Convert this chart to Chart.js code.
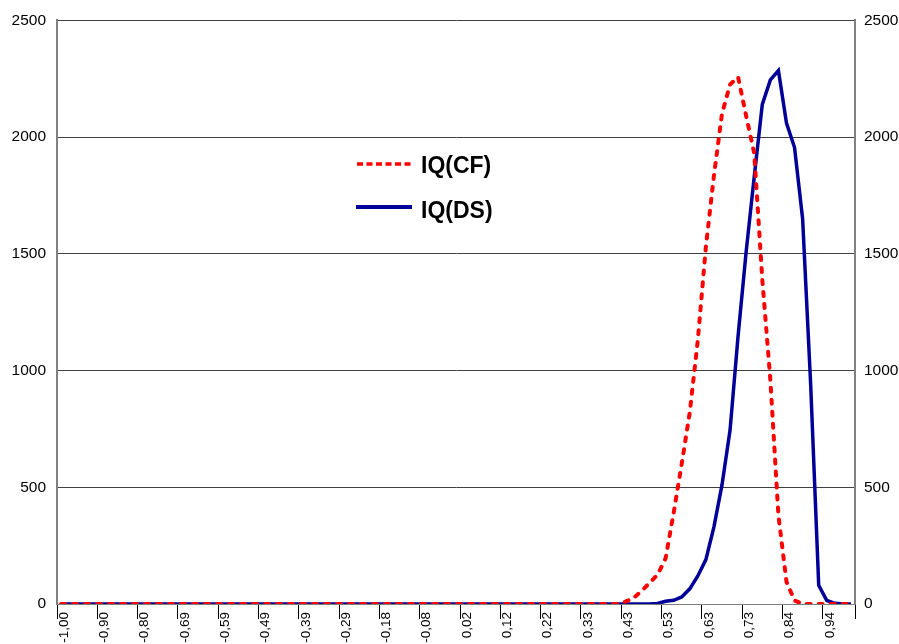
<!DOCTYPE html>
<html>
<head>
<meta charset="utf-8">
<script src="https://cdn.jsdelivr.net/npm/chart.js@4.4.1/dist/chart.umd.min.js"></script>
<style>
  body { margin: 0; background: #fff; }
  #wrap { position: relative; width: 899px; height: 644px; overflow: hidden; }
  .lg-text { position: absolute; font-family: "Liberation Sans", Arial, sans-serif; font-weight: bold; font-size: 23px; line-height: 26px; color: #000; white-space: nowrap; }
  svg.lg { position: absolute; left: 0; top: 0; }
</style>
</head>
<body>
<div id="wrap">
  <canvas id="lineChart" width="899" height="644"></canvas>
  <svg class="lg" width="899" height="644">
    <line x1="357" y1="164" x2="411" y2="164" stroke="#ff0000" stroke-width="3.5" stroke-dasharray="6 3.5"></line>
    <line x1="356" y1="207" x2="412" y2="207" stroke="#000099" stroke-width="4"></line>
  </svg>
  <div class="lg-text" style="left:421px; top:152px;">IQ(CF)</div>
  <div class="lg-text" style="left:421px; top:197px;">IQ(DS)</div>
</div>
<script>
// Dados

const categorias = [
  '-1,00', '-0,98', '-0,96', '-0,94', '-0,92', '-0,90', '-0,88', '-0,86', '-0,84', '-0,82',
  '-0,80', '-0,78', '-0,76', '-0,73', '-0,71', '-0,69', '-0,67', '-0,65', '-0,63', '-0,61',
  '-0,59', '-0,57', '-0,55', '-0,53', '-0,51', '-0,49', '-0,47', '-0,45', '-0,43', '-0,41',
  '-0,39', '-0,37', '-0,35', '-0,33', '-0,31', '-0,29', '-0,27', '-0,24', '-0,22', '-0,20',
  '-0,18', '-0,16', '-0,14', '-0,12', '-0,10', '-0,08', '-0,06', '-0,04', '-0,02', '0,00',
  '0,02', '0,04', '0,06', '0,08', '0,10', '0,12', '0,14', '0,16', '0,18', '0,20',
  '0,22', '0,24', '0,27', '0,29', '0,31', '0,33', '0,35', '0,37', '0,39', '0,41',
  '0,43', '0,45', '0,47', '0,49', '0,51', '0,53', '0,55', '0,57', '0,59', '0,61',
  '0,63', '0,65', '0,67', '0,69', '0,71', '0,73', '0,76', '0,78', '0,80', '0,82',
  '0,84', '0,86', '0,88', '0,90', '0,92', '0,94', '0,96', '0,98', '1,00'
];

const iqCF = [
  0, 0, 0, 0, 0, 0, 0, 0, 0, 0,
  0, 0, 0, 0, 0, 0, 0, 0, 0, 0,
  0, 0, 0, 0, 0, 0, 0, 0, 0, 0,
  0, 0, 0, 0, 0, 0, 0, 0, 0, 0,
  0, 0, 0, 0, 0, 0, 0, 0, 0, 0,
  0, 0, 0, 0, 0, 0, 0, 0, 0, 0,
  0, 0, 0, 0, 0, 0, 0, 0, 0, 0,
  10, 25, 55, 90, 125, 195, 390, 600, 820, 1130,
  1530, 1835, 2100, 2225, 2257, 2090, 1930, 1390, 960, 380,
  95, 15, 0, 0, 0, 0, 0, 0, 0
];

const iqDS = [
  0, 0, 0, 0, 0, 0, 0, 0, 0, 0,
  0, 0, 0, 0, 0, 0, 0, 0, 0, 0,
  0, 0, 0, 0, 0, 0, 0, 0, 0, 0,
  0, 0, 0, 0, 0, 0, 0, 0, 0, 0,
  0, 0, 0, 0, 0, 0, 0, 0, 0, 0,
  0, 0, 0, 0, 0, 0, 0, 0, 0, 0,
  0, 0, 0, 0, 0, 0, 0, 0, 0, 0,
  0, 0, 0, 0, 2, 12, 16, 30, 65, 120,
  190, 330, 510, 745, 1150, 1510, 1830, 2140, 2245, 2285,
  2060, 1955, 1650, 940, 80, 15, 3, 0, 0
];

const ticksY = [0, 500, 1000, 1500, 2000, 2500];

// Configurações

const fonte = "'Liberation Sans', Arial, sans-serif";

const config = {
  type: 'line',
  data: {
    labels: categorias,
    datasets: [
      {
        label: 'IQ(CF)',
        data: iqCF,
        borderColor: '#ff0000',
        borderWidth: 4,
        borderDash: [4, 8],
        borderCapStyle: 'round',
        pointRadius: 0,
        tension: 0,
        yAxisID: 'y'
      },
      {
        label: 'IQ(DS)',
        data: iqDS,
        borderColor: '#000099',
        borderWidth: 3.5,
        pointRadius: 0,
        tension: 0,
        yAxisID: 'y'
      }
    ]
  },
  options: {
    responsive: false,
    animation: false,
    layout: { padding: { top: 20, left: 0, right: 0, bottom: 0 } },
    plugins: {
      legend: { display: false },
      tooltip: { enabled: false }
    },
    scales: {
      x: {
        offset: true,
        grid: {
          offset: true,
          drawOnChartArea: false,
          tickLength: 15,
          lineWidth: 1,
          color: (c) => (c.index === undefined || c.index % 5 === 0) ? '#000' : 'rgba(0,0,0,0)'
        },
        border: { color: '#808080', width: 1 },
        ticks: {
          autoSkip: false,
          minRotation: 90,
          maxRotation: 90,
          padding: -7,
          labelOffset: 3,
          color: '#000',
          font: { family: fonte, size: 13.5 },
          callback: function (v, i) { return i % 5 === 0 ? this.getLabelForValue(v) : ''; }
        },
        afterFit: (s) => { s.height = 40; }
      },
      y: {
        position: 'left',
        min: 0,
        max: 2500,
        afterBuildTicks: (s) => { s.ticks = ticksY.map(v => ({ value: v })); },
        grid: { color: '#404040', lineWidth: 1, drawTicks: false },
        border: { color: '#808080', width: 2 },
        ticks: { padding: 11, color: '#000', font: { family: fonte, size: 15.5 }, callback: (v) => String(v) },
        afterFit: (s) => { s.width = 57; }
      },
      y2: {
        position: 'right',
        min: 0,
        max: 2500,
        afterBuildTicks: (s) => { s.ticks = ticksY.map(v => ({ value: v })); },
        grid: { drawOnChartArea: false, drawTicks: false },
        border: { color: '#808080', width: 2 },
        ticks: { padding: 9, color: '#000', font: { family: fonte, size: 15.5 }, callback: (v) => String(v) },
        afterFit: (s) => { s.width = 44; }
      }
    }
  }
};

// Inicialização

const ctx = document.getElementById('lineChart').getContext('2d');
const grafico = new Chart(ctx, config);
</script>
</body>
</html>
